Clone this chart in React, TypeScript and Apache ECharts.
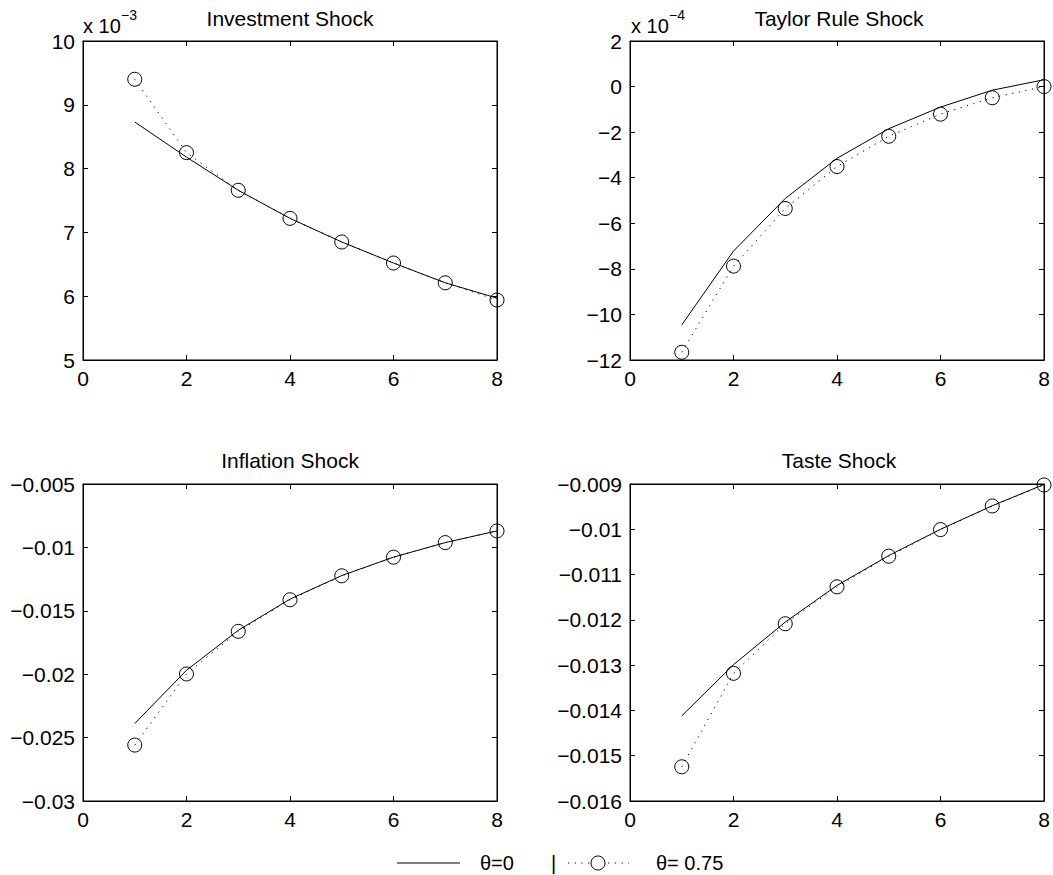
import React, { useEffect, useRef } from "react";
import * as echarts from "echarts";

// Horizon (periods)
const horizon = [1, 2, 3, 4, 5, 6, 7, 8];

// Investment Shock (values in levels, axis shown x 10^-3)
const investTheta0 = [0.00873, 0.00818, 0.00766, 0.00722, 0.00685, 0.00652, 0.00621, 0.00597];
const investTheta075 = [0.0094, 0.00825, 0.00766, 0.00722, 0.00685, 0.00652, 0.00621, 0.00594];

// Taylor Rule Shock (axis shown x 10^-4)
const taylorTheta0 = [-0.001046, -0.000722, -0.000491, -0.000315, -0.000185, -0.00009, -0.000016, 0.00003];
const taylorTheta075 = [-0.001166, -0.000788, -0.000535, -0.000351, -0.000218, -0.000121, -0.000049, 0.0];

// Inflation Shock
const inflTheta0 = [-0.02389, -0.01969, -0.01654, -0.01408, -0.01222, -0.01077, -0.00962, -0.0087];
const inflTheta075 = [-0.02559, -0.01998, -0.01662, -0.01413, -0.01224, -0.01077, -0.00962, -0.0087];

// Taste Shock
const tasteTheta0 = [-0.014121, -0.01299, -0.012049, -0.01124, -0.01058, -0.01, -0.00948, -0.00901];
const tasteTheta075 = [-0.015245, -0.013181, -0.012086, -0.01127, -0.010594, -0.010007, -0.009485, -0.009022];

const titles = ["Investment Shock", "Taylor Rule Shock", "Inflation Shock", "Taste Shock"];
const legendLabels = ["θ=0", "θ= 0.75"];
const xTicks = { min: 0, max: 8, interval: 2 };
const yRanges = [
  { min: 0.005, max: 0.01, interval: 0.001, scale: 1e3 },
  { min: -0.0012, max: 0.0002, interval: 0.0002, scale: 1e4 },
  { min: -0.03, max: -0.005, interval: 0.005, scale: 0 },
  { min: -0.016, max: -0.009, interval: 0.001, scale: 0 },
];
const exponents = ["−3", "−4"];

const FONT = "'Liberation Sans', Arial, Helvetica, sans-serif";

function fmtY(v: number, scale: number): string {
  let s: string;
  if (scale) {
    const r = Math.round(v * scale);
    s = r < 0 ? "−" + Math.abs(r) : String(r);
  } else {
    const a = +Math.abs(v).toFixed(5);
    s = (v < 0 ? "−" : "") + String(a);
  }
  return s;
}

export default function App() {
  const ref = useRef<HTMLDivElement>(null);

  useEffect(() => {
    document.body.style.margin = "0";
    const chart = echarts.init(ref.current!, undefined, { renderer: "svg" });

    const grids = [
      { left: 83, top: 41, width: 414, height: 319 },
      { left: 630, top: 41, width: 414, height: 319 },
      { left: 83, top: 484, width: 414, height: 317 },
      { left: 630, top: 484, width: 414, height: 317 },
    ];
    const data = [
      [investTheta0, investTheta075],
      [taylorTheta0, taylorTheta075],
      [inflTheta0, inflTheta075],
      [tasteTheta0, tasteTheta075],
    ];

    const xAxes: any[] = [];
    const yAxes: any[] = [];
    const series: any[] = [];
    grids.forEach((g, i) => {
      const axisLine = { show: true, onZero: false, lineStyle: { color: "#000", width: 1 } };
      const tick = { show: true, inside: true, length: 5, lineStyle: { color: "#000" } };
      xAxes.push({
        gridIndex: i, type: "value", position: "bottom", ...xTicks,
        axisLine, axisTick: tick, splitLine: { show: false },
        axisLabel: { color: "#000", fontSize: 21, fontFamily: FONT, margin: 8, showMinLabel: true, showMaxLabel: true },
      });
      xAxes.push({
        gridIndex: i, type: "value", position: "top", ...xTicks,
        axisLine, axisTick: tick, splitLine: { show: false }, axisLabel: { show: false },
      });
      const yr = yRanges[i];
      yAxes.push({
        gridIndex: i, type: "value", position: "left", min: yr.min, max: yr.max, interval: yr.interval,
        axisLine, axisTick: tick, splitLine: { show: false },
        axisLabel: {
          color: "#000", fontSize: 21, fontFamily: FONT, margin: 8, showMinLabel: true, showMaxLabel: true,
          formatter: (v: number) => fmtY(v, yr.scale),
        },
      });
      yAxes.push({
        gridIndex: i, type: "value", position: "right", min: yr.min, max: yr.max, interval: yr.interval,
        axisLine, axisTick: tick, splitLine: { show: false }, axisLabel: { show: false },
      });
      const [d0, d1] = data[i];
      series.push({
        name: legendLabels[0], type: "line", xAxisIndex: 2 * i, yAxisIndex: 2 * i,
        data: horizon.map((h, k) => [h, d0[k]]), showSymbol: false, symbol: "none", clip: false,
        lineStyle: { color: "#000", width: 1, type: "solid" },
      });
      series.push({
        name: legendLabels[1], type: "line", xAxisIndex: 2 * i, yAxisIndex: 2 * i,
        data: horizon.map((h, k) => [h, d1[k]]), symbol: "circle", symbolSize: 14, clip: false,
        itemStyle: { color: "rgba(0,0,0,0)", borderColor: "#000", borderWidth: 1 },
        lineStyle: { color: "#000", width: 1, type: [1.2, 5.5] },
      });
    });

    const txt = (text: string, x: number, y: number, size: number, align: string) => ({
      type: "text", x, y, silent: true,
      style: {
        text, fill: "#000", font: `${size}px ${FONT}`,
        textAlign: align, align, textVerticalAlign: "middle", verticalAlign: "middle",
      },
    });

    const titleX = [290, 839, 290, 839];
    const titleY = [18, 18, 460, 460];
    const graphic: any[] = [];
    titles.forEach((t, i) => graphic.push(txt(t, titleX[i], titleY[i], 21, "center")));
    // exponent labels
    graphic.push(txt("x 10", 83, 26, 20, "left"));
    graphic.push(txt(exponents[0], 121, 15, 14, "left"));
    graphic.push(txt("x 10", 631, 26, 20, "left"));
    graphic.push(txt(exponents[1], 669, 15, 14, "left"));
    // legend
    const ly = 863;
    graphic.push({ type: "line", shape: { x1: 397, y1: ly, x2: 460, y2: ly }, style: { stroke: "#000", lineWidth: 1 } });
    graphic.push(txt(legendLabels[0], 480, ly, 20, "left"));
    graphic.push(txt("|", 551, ly, 20, "left"));
    graphic.push({ type: "line", shape: { x1: 568, y1: ly, x2: 629, y2: ly }, style: { stroke: "#000", lineWidth: 1, lineDash: [1.2, 5.5] } });
    graphic.push({ type: "circle", shape: { cx: 598, cy: ly, r: 7 }, style: { fill: "#fff", stroke: "#000", lineWidth: 1 } });
    graphic.push(txt(legendLabels[1], 656, ly, 20, "left"));

    chart.setOption({
      animation: false,
      backgroundColor: "#fff",
      grid: grids.map((g) => ({ ...g, show: true, borderColor: "#000", borderWidth: 1, backgroundColor: "transparent", containLabel: false })),
      xAxis: xAxes,
      yAxis: yAxes,
      series,
      graphic,
    });
    return () => chart.dispose();
  }, []);

  return (
    <div
      ref={ref}
      style={{ position: "absolute", left: 0, top: 0, width: 1053, height: 875, background: "#fff" }}
    />
  );
}
